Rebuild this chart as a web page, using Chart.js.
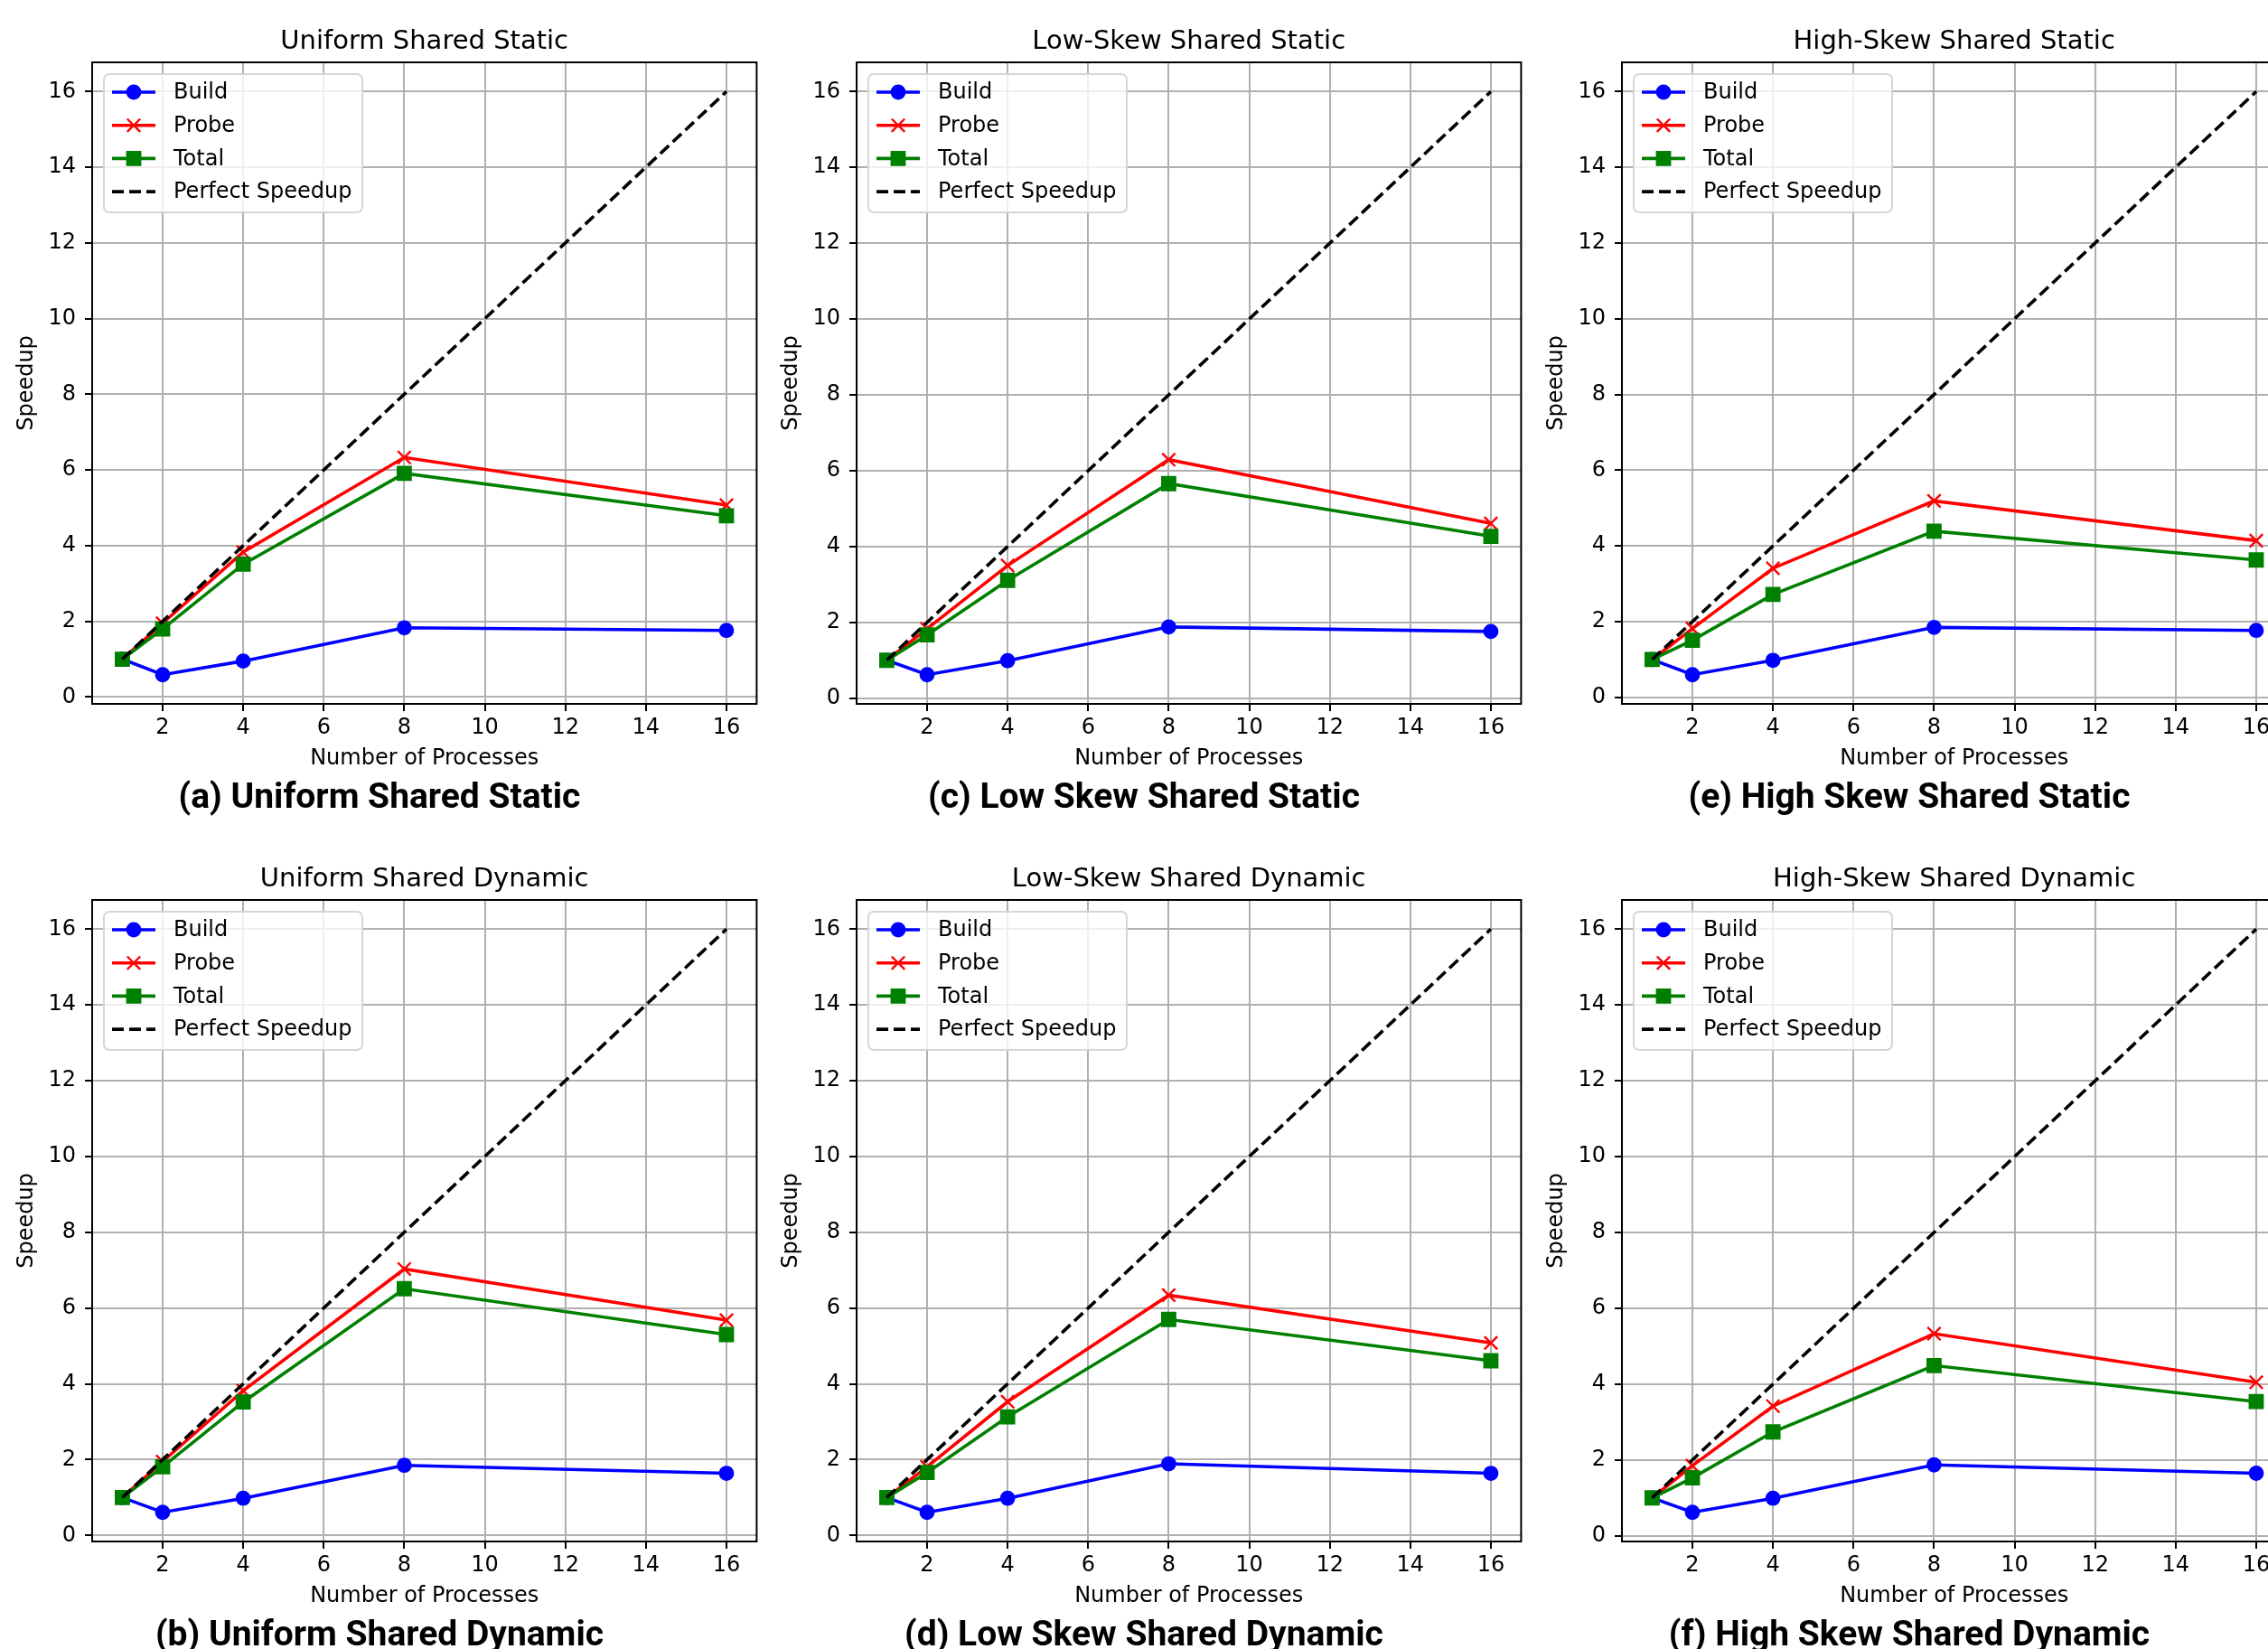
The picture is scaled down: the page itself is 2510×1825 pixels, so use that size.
<!DOCTYPE html>
<html>
<head>
<meta charset="utf-8">
<script src="https://cdn.jsdelivr.net/npm/chart.js@4.4.1/dist/chart.umd.min.js"></script>
<style>
html, body { margin: 0; padding: 0; background: #fff; }
body { width: 2510px; height: 1825px; overflow: hidden; position: relative; }
canvas { position: absolute; }
</style>
</head>
<body>
<canvas id="p0" width="850" height="910" style="left:0px;top:0px"></canvas>
<canvas id="p1" width="850" height="910" style="left:846px;top:0px"></canvas>
<canvas id="p2" width="850" height="910" style="left:1693px;top:0px"></canvas>
<canvas id="p3" width="850" height="910" style="left:0px;top:927px"></canvas>
<canvas id="p4" width="850" height="910" style="left:846px;top:927px"></canvas>
<canvas id="p5" width="850" height="910" style="left:1693px;top:927px"></canvas>
<script>
// process counts and ideal speedup
const processes = [1, 2, 4, 8, 16];
const perfect = [1, 2, 4, 8, 16];
const xTicks = [2, 4, 6, 8, 10, 12, 14, 16];
const yTicks = [0, 2, 4, 6, 8, 10, 12, 14, 16];

// (a) uniform static
const uniformStaticBuild = [1.0, 0.59, 0.95, 1.83, 1.76];
const uniformStaticProbe = [1.0, 1.95, 3.83, 6.33, 5.07];
const uniformStaticTotal = [1.0, 1.80, 3.51, 5.91, 4.79];
// (c) low skew static
const lowStaticBuild = [1.0, 0.62, 0.99, 1.88, 1.76];
const lowStaticProbe = [1.0, 1.83, 3.50, 6.29, 4.61];
const lowStaticTotal = [1.0, 1.67, 3.11, 5.66, 4.27];
// (e) high skew static
const highStaticBuild = [1.0, 0.60, 0.98, 1.85, 1.77];
const highStaticProbe = [1.0, 1.82, 3.41, 5.19, 4.14];
const highStaticTotal = [1.0, 1.51, 2.72, 4.39, 3.63];
// (b) uniform dynamic
const uniformDynBuild = [1.0, 0.61, 0.98, 1.85, 1.64];
const uniformDynProbe = [1.0, 1.95, 3.82, 7.03, 5.68];
const uniformDynTotal = [1.0, 1.81, 3.52, 6.51, 5.30];
// (d) low skew dynamic
const lowDynBuild = [1.0, 0.61, 0.98, 1.89, 1.64];
const lowDynProbe = [1.0, 1.81, 3.53, 6.34, 5.08];
const lowDynTotal = [1.0, 1.66, 3.13, 5.70, 4.61];
// (f) high skew dynamic
const highDynBuild = [1.0, 0.62, 0.99, 1.87, 1.65];
const highDynProbe = [1.0, 1.85, 3.42, 5.33, 4.05];
const highDynTotal = [1.0, 1.53, 2.74, 4.49, 3.54];

const panels = [
  { id: 'p0', title: 'Uniform Shared Static', caption: '(a) Uniform Shared Static', build: uniformStaticBuild, probe: uniformStaticProbe, total: uniformStaticTotal },
  { id: 'p1', title: 'Low-Skew Shared Static', caption: '(c) Low Skew Shared Static', build: lowStaticBuild, probe: lowStaticProbe, total: lowStaticTotal },
  { id: 'p2', title: 'High-Skew Shared Static', caption: '(e) High Skew Shared Static', build: highStaticBuild, probe: highStaticProbe, total: highStaticTotal },
  { id: 'p3', title: 'Uniform Shared Dynamic', caption: '(b) Uniform Shared Dynamic', build: uniformDynBuild, probe: uniformDynProbe, total: uniformDynTotal },
  { id: 'p4', title: 'Low-Skew Shared Dynamic', caption: '(d) Low Skew Shared Dynamic', build: lowDynBuild, probe: lowDynProbe, total: lowDynTotal },
  { id: 'p5', title: 'High-Skew Shared Dynamic', caption: '(f) High Skew Shared Dynamic', build: highDynBuild, probe: highDynProbe, total: highDynTotal }
];

Chart.defaults.font.family = "'DejaVu Sans', sans-serif";
Chart.defaults.color = '#000';

function pts(vals) {
  return processes.map((p, i) => ({ x: p, y: vals[i] }));
}

// matplotlib style 5% margins
function padRange(vals) {
  const lo = Math.min(...vals), hi = Math.max(...vals);
  const m = (hi - lo) * 0.05;
  return [lo - m, hi + m];
}

function drawMarker(ctx, style, r, x, y, color) {
  ctx.fillStyle = color;
  ctx.strokeStyle = color;
  ctx.lineWidth = 2.4;
  ctx.setLineDash([]);
  ctx.beginPath();
  if (style === 'circle') {
    ctx.arc(x, y, r, 0, Math.PI * 2);
    ctx.fill();
    ctx.stroke();
  } else if (style === 'rect') {
    const s = r * Math.SQRT1_2;
    ctx.rect(x - s, y - s, 2 * s, 2 * s);
    ctx.fill();
    ctx.stroke();
  } else if (style === 'crossRot') {
    const s = r * Math.SQRT1_2;
    ctx.moveTo(x - s, y - s); ctx.lineTo(x + s, y + s);
    ctx.moveTo(x - s, y + s); ctx.lineTo(x + s, y - s);
    ctx.stroke();
  }
}

// full axes box + matplotlib-like legend in the upper left
const frameAndLegend = {
  id: 'frameAndLegend',
  afterDatasetsDraw(chart) {
    const { ctx, chartArea: a } = chart;
    ctx.save();
    const bx = a.left + 13, by = a.top + 13, bw = 286, bh = 153, rr = 6;
    ctx.beginPath();
    ctx.moveTo(bx + rr, by);
    ctx.arcTo(bx + bw, by, bx + bw, by + bh, rr);
    ctx.arcTo(bx + bw, by + bh, bx, by + bh, rr);
    ctx.arcTo(bx, by + bh, bx, by, rr);
    ctx.arcTo(bx, by, bx + bw, by, rr);
    ctx.closePath();
    ctx.fillStyle = 'rgba(255,255,255,0.8)';
    ctx.fill();
    ctx.strokeStyle = '#d6d6d6';
    ctx.lineWidth = 2;
    ctx.stroke();

    chart.data.datasets.forEach((ds, i) => {
      const y = by + 20 + i * 36.7;
      ctx.strokeStyle = ds.borderColor;
      ctx.lineWidth = ds.borderWidth;
      ctx.setLineDash(ds.borderDash || []);
      ctx.beginPath();
      ctx.moveTo(bx + 9, y);
      ctx.lineTo(bx + 57, y);
      ctx.stroke();
      if (ds.pointRadius > 0) drawMarker(ctx, ds.pointStyle, ds.pointRadius, bx + 33, y, ds.borderColor);
      ctx.fillStyle = '#000';
      ctx.font = "24px 'DejaVu Sans'";
      ctx.textBaseline = 'middle';
      ctx.textAlign = 'left';
      ctx.fillText(ds.label, bx + 77, y + 1);
    });

    ctx.setLineDash([]);
    ctx.strokeStyle = '#000';
    ctx.lineWidth = 2;
    ctx.strokeRect(a.left, a.top, a.right - a.left, a.bottom - a.top);
    ctx.restore();
  }
};

const xRange = padRange(processes);

panels.forEach(p => {
  const yRange = padRange([...p.build, ...p.probe, ...p.total, ...perfect]);
  new Chart(document.getElementById(p.id).getContext('2d'), {
    type: 'line',
    data: {
      datasets: [
        { label: 'Build', data: pts(p.build), borderColor: '#0000ff', backgroundColor: '#0000ff',
          borderWidth: 3.6, pointStyle: 'circle', pointRadius: 7.2, pointBorderWidth: 2.4, order: 4 },
        { label: 'Probe', data: pts(p.probe), borderColor: '#ff0000', backgroundColor: '#ff0000',
          borderWidth: 3.6, pointStyle: 'crossRot', pointRadius: 10.2, pointBorderWidth: 2.4, order: 3 },
        { label: 'Total', data: pts(p.total), borderColor: '#008000', backgroundColor: '#008000',
          borderWidth: 3.6, pointStyle: 'rect', pointRadius: 10.2, pointBorderWidth: 2.4, order: 2 },
        { label: 'Perfect Speedup', data: pts(perfect), borderColor: '#000000', backgroundColor: '#000000',
          borderWidth: 3.6, borderDash: [13, 6], pointRadius: 0, order: 1 }
      ]
    },
    options: {
      responsive: false,
      animation: false,
      devicePixelRatio: 1,
      layout: { padding: { left: 0, right: 10, top: 0, bottom: 2 } },
      elements: { line: { tension: 0 } },
      plugins: {
        legend: { display: false },
        tooltip: { enabled: false },
        title: {
          display: true, fullSize: false, text: p.title, color: '#000',
          font: { size: 29, weight: 'normal' },
          padding: { top: 28.6, bottom: 5.6 }
        },
        subtitle: {
          display: true, position: 'bottom', text: p.caption, color: '#000',
          font: { family: 'Roboto', size: 39, weight: 'bold' },
          padding: { top: 6.8, bottom: 0 }
        }
      },
      scales: {
        x: {
          type: 'linear', min: xRange[0], max: xRange[1],
          afterBuildTicks: ax => { ax.ticks = xTicks.map(v => ({ value: v })); },
          afterFit: ax => { ax.height = 75.4; },
          border: { display: false },
          grid: { color: '#b0b0b0', lineWidth: 2, tickColor: '#000', tickWidth: 2, tickLength: 8 },
          ticks: { color: '#000', font: { size: 24 }, padding: 4, maxRotation: 0, autoSkip: false,
                   callback: v => String(v) },
          title: { display: true, text: 'Number of Processes', color: '#000', font: { size: 24 },
                   padding: { top: 0, bottom: 0 } }
        },
        y: {
          type: 'linear', min: yRange[0], max: yRange[1],
          afterBuildTicks: ax => { ax.ticks = yTicks.map(v => ({ value: v })); },
          afterFit: ax => { ax.width = 102; },
          border: { display: false },
          grid: { color: '#b0b0b0', lineWidth: 2, tickColor: '#000', tickWidth: 2, tickLength: 8 },
          ticks: { color: '#000', font: { size: 24 }, padding: 10, autoSkip: false,
                   callback: v => String(v) },
          title: { display: true, text: 'Speedup', color: '#000', font: { size: 24 },
                   padding: { top: 15.6, bottom: 0 } }
        }
      }
    },
    plugins: [frameAndLegend]
  });
});
</script>
</body>
</html>
